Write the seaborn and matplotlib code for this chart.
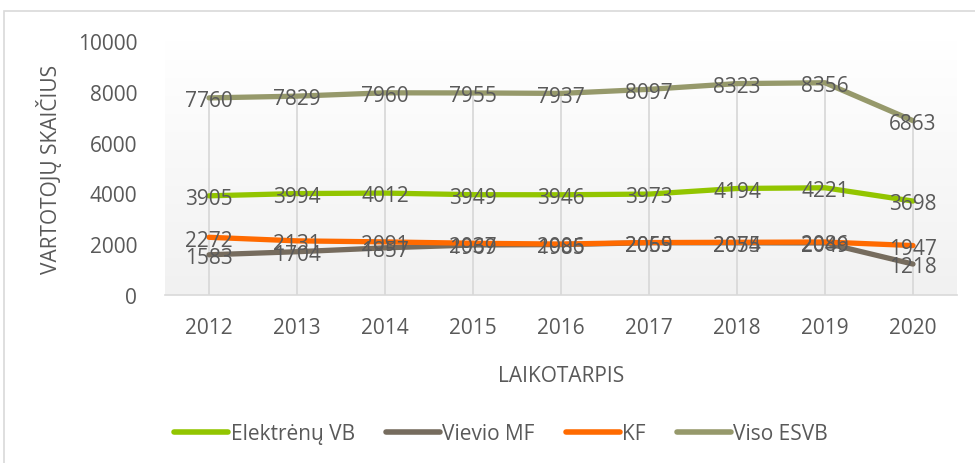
import numpy as np
import pandas as pd
import matplotlib
matplotlib.use("Agg")
import matplotlib.pyplot as plt
import seaborn as sns
from matplotlib.patches import Rectangle

# duomenys
metai = ["2012", "2013", "2014", "2015", "2016", "2017", "2018", "2019", "2020"]
elektrenu_vb = [3905, 3994, 4012, 3949, 3946, 3973, 4194, 4221, 3698]
vievio_mf = [1583, 1704, 1857, 1969, 1985, 2059, 2054, 2049, 1218]
kf = [2272, 2131, 2091, 2037, 2006, 2065, 2075, 2086, 1947]
viso_esvb = [7760, 7829, 7960, 7955, 7937, 8097, 8323, 8356, 6863]

serijos = ["Elektrėnų VB", "Vievio MF", "KF", "Viso ESVB"]
spalvos = ["#92C500", "#766C5E", "#FF6A00", "#96996B"]
reiksmes = [elektrenu_vb, vievio_mf, kf, viso_esvb]

rows = []
for name, vals in zip(serijos, reiksmes):
    for i, v in enumerate(vals):
        rows.append({"x": i, "metai": metai[i], "serija": name, "reiksme": v})
df = pd.DataFrame(rows)

sns.set_style("white")
plt.rcParams["font.family"] = ["Open Sans", "DejaVu Sans"]
teksto_spalva = "#595959"
fs = 15

fig = plt.figure(figsize=(9.75, 4.64), dpi=100)
ax = fig.add_axes([165 / 975, 1 - 296 / 464, 792 / 975, 254 / 464])

# remelis aplink diagrama
fig.patches.append(Rectangle((4 / 975, -0.05), 1.2, 1 - 12 / 464 + 0.05,
                             transform=fig.transFigure, fill=False,
                             edgecolor="#d9d9d9", lw=1.2))

# fono gradientas
grad = np.linspace(1, 0, 256).reshape(-1, 1)
ax.imshow(grad, extent=[-0.5, 8.5, 0, 10000], aspect="auto",
          cmap=matplotlib.colors.LinearSegmentedColormap.from_list("g", ["#f1f1f1", "#ffffff"]),
          vmin=0, vmax=1, zorder=0, origin="upper")

# vertikalios linijos iki didziausios reiksmes
ax.vlines(range(len(metai)), 0, viso_esvb, color="#d9d9d9", lw=1.3, zorder=1)

sns.lineplot(data=df, x="x", y="reiksme", hue="serija", hue_order=serijos,
             palette=spalvos, linewidth=3.8, ax=ax, legend=False, zorder=3)

for name, vals in zip(serijos, reiksmes):
    for i, v in enumerate(vals):
        ax.annotate(str(v), (i, v), xytext=(0, -2), textcoords="offset points",
                    ha="center", va="center", fontsize=fs, color=teksto_spalva, zorder=5)

ax.set_xlim(-0.5, 8.5)
ax.set_ylim(0, 10000)
ax.set_yticks(range(0, 10001, 2000))
ax.set_xticks(range(len(metai)))
ax.set_xticklabels(metai)
ax.set_xticks(np.arange(-0.5, 9, 1), minor=True)
ax.tick_params(axis="x", which="major", length=0, pad=16, labelsize=fs, labelcolor=teksto_spalva)
ax.tick_params(axis="x", which="minor", length=9, width=1.2, color="#d9d9d9", direction="out")
ax.tick_params(axis="y", length=0, pad=20, labelsize=fs, labelcolor=teksto_spalva)

for s in ["top", "right", "left"]:
    ax.spines[s].set_visible(False)
ax.spines["bottom"].set_color("#d9d9d9")
ax.spines["bottom"].set_linewidth(1.2)

ax.set_xlabel("LAIKOTARPIS", fontsize=fs, color=teksto_spalva)
ax.set_ylabel("VARTOTOJŲ SKAIČIUS", fontsize=fs, color=teksto_spalva)
ax.xaxis.set_label_coords(0.5, -(366 - 296) / 254)
ax.yaxis.set_label_coords(-(165 - 62) / 792, 0.5)

handles = [plt.Line2D([], [], color=c, lw=4) for c in spalvos]
fig.legend(handles, serijos, loc="center", bbox_to_anchor=(501 / 975, 1 - 435 / 464),
           ncol=4, frameon=False, fontsize=fs, labelcolor=teksto_spalva,
           handlelength=2.6, handletextpad=0.1, columnspacing=1.5)

fig.savefig("out.png", dpi=100)
